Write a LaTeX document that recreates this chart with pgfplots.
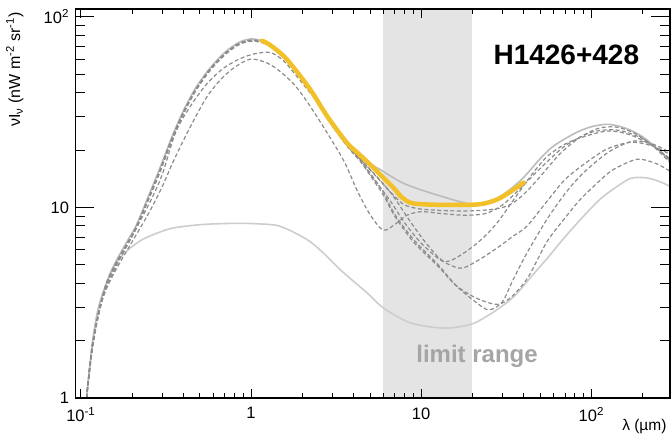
\documentclass[border=0pt]{standalone}
\usepackage{fontspec}
\setmainfont{Liberation Sans}
\usepackage{pgfplots}
\pgfplotsset{compat=1.18}
\definecolor{solidgray}{RGB}{188,188,188}
\definecolor{lowgray}{RGB}{205,205,205}
\definecolor{dashgray}{RGB}{140,140,140}
\definecolor{bandgray}{RGB}{228,228,228}
\definecolor{gold}{RGB}{242,192,40}
\definecolor{txtgray}{RGB}{165,165,165}
\begin{document}
\begin{tikzpicture}
\begin{axis}[name=ax, xmode=log, ymode=log, scale only axis,
  width=594.5pt, height=389pt,
  xmin=0.093, xmax=290, ymin=1, ymax=110,
  xtick={0.1,1,10,100}, xticklabels={10\textsuperscript{-1},1,10,10\textsuperscript{2}},
  minor xtick={0.2,0.3,0.4,0.5,0.6,0.7,0.8,0.9,2,3,4,5,6,7,8,9,20,30,40,50,60,70,80,90,200},
  ytick={1,10,100}, yticklabels={1,10,10\textsuperscript{2}},
  minor ytick={2,3,4,5,6,7,8,9,20,30,40,50,60,70,80,90},
  tick align=inside, axis on top,
  major tick length=9pt, minor tick length=5pt,
  axis line style={line width=1.2pt},
  every tick/.style={black, line width=0.9pt},
  tick label style={font=\fontsize{16.5}{19}\selectfont},
  xticklabel style={yshift=-6pt},
  yticklabel style={xshift=-3pt},
  xlabel={λ (µm)},
  xlabel style={at={(rel axis cs:1,0)}, anchor=north east, yshift=-18pt, xshift=0pt, font=\fontsize{15.5}{18}\selectfont},
  ylabel={νI\textsubscript{ν} (nW m\textsuperscript{-2} sr\textsuperscript{-1})},
  ylabel style={at={(rel axis cs:-0.102,1.0)}, anchor=east, font=\fontsize{16}{18}\selectfont},
]
% limit range band
\addplot[draw=none, fill=bandgray] coordinates {(6,1) (6,110) (20,110) (20,1)} -- cycle;

% lower solid
\addplot[lowgray, line width=1.6pt, smooth] coordinates {
(0.108,1.0) (0.117,1.95) (0.126,2.85) (0.137,3.7) (0.161,5.1) (0.19,6.0) (0.231,6.8) (0.3,7.5) (0.362,7.85) (0.52,8.14) (0.8,8.25) (1.1,8.2) (1.48,7.97) (2.13,6.79) (2.7,5.7) (3.34,4.72) (4.0,4.1) (4.8,3.57) (5.97,2.98) (8.24,2.52) (11,2.37) (14.5,2.33) (20,2.45) (27,2.85) (35,3.4) (45,4.4) (55,5.4) (70,7.0) (90,9.0) (112,11) (135,12.5) (170,14.2) (210,14.3) (250,13.7) (290,12.9)};

% top solid
\addplot[solidgray, line width=1.6pt, smooth] coordinates {
(0.108,1.0) (0.117,1.95) (0.126,2.9) (0.137,3.7) (0.15,4.6) (0.168,5.6) (0.19,6.8) (0.211,8.0) (0.25,11.5) (0.289,15.8) (0.34,23) (0.396,31.5) (0.47,42) (0.569,53.3) (0.7,65) (0.85,73.5) (1.0,76.6) (1.15,75) (1.3,71) (1.62,60) (2.22,41.8) (2.79,30.3) (3.65,21.9) (4.5,18) (5.74,15.8) (8,13.3) (12.9,11.5) (20.2,10.4) (28,11.2) (38.2,13.8) (50,18) (60,21) (80,24.5) (100,26.5) (126,27.3) (160,26) (200,23.5) (250,20) (290,17.5)};

% dashed curves
\pgfplotsset{dsh/.style={dashgray, line width=1.2pt, dash pattern=on 4pt off 2.5pt, smooth}}
\addplot[dsh] coordinates {
(0.108,1) (0.117,1.9) (0.137,3.6) (0.15,4.5) (0.17,5.6) (0.211,7.8) (0.25,11.2) (0.29,15.4) (0.34,22.5) (0.4,31.5) (0.47,41) (0.57,52.5) (0.7,64) (0.85,72.5) (1.0,75.5) (1.15,74) (1.3,70) (1.62,59) (2.22,41) (2.79,29.5) (3.65,21.2) (4.4,18) (5,15.8) (6,13.2) (7,11.4) (8,10.3) (10,9.8) (15,9.6) (20,9.6) (27,9.8) (33,10.3) (40,11.7) (50,14.5) (65,19) (85,23.2) (110,26) (140,26.4) (180,24.5) (230,21) (290,17.2)};
\addplot[dsh] coordinates {
(0.108,1) (0.117,1.85) (0.13,3.1) (0.15,4.3) (0.2,7.1) (0.25,10.3) (0.3,14.8) (0.362,25) (0.45,35) (0.55,44.5) (0.68,53.3) (0.85,60) (1.05,64) (1.3,65) (1.55,59) (1.77,51.4) (2.55,34.1) (3.47,22.8) (4.37,18) (5.5,14.5) (6.84,11.5) (8.5,8.6) (11,6.3) (14,5.2) (20,6.2) (27,8) (35,11) (45,15) (55,18.5) (70,21.5) (90,23.5) (126,25.2) (170,24) (230,21) (290,18)};
\addplot[dsh] coordinates {
(0.108,1) (0.117,1.8) (0.13,3.0) (0.15,4.2) (0.2,6.6) (0.25,9.3) (0.3,12.8) (0.35,17.5) (0.432,25.7) (0.55,38) (0.68,48) (0.816,55) (0.99,60) (1.2,58) (1.42,53.3) (1.8,44) (2.22,34.1) (3.03,22) (3.6,16.8) (4.2,12.3) (5.0,9.2) (6.0,7.6) (7.2,8.3) (8.24,9.1) (10,9.5) (13,9.3) (18,9.1) (24,9.3) (30,10.3) (38,12.5) (50,16) (70,21) (100,24.8) (140,25.5) (190,23.5) (240,20.5) (290,17.8)};
\addplot[dsh] coordinates {
(0.108,1) (0.118,2) (0.137,3.65) (0.15,4.5) (0.17,5.55) (0.211,7.9) (0.25,11.3) (0.29,15.5) (0.34,22.6) (0.4,31.5) (0.47,41.3) (0.57,52.8) (0.7,64) (0.85,72.5) (1.0,75.5) (1.15,74.5) (1.3,70.5) (1.62,59.5) (2.22,41.3) (2.79,29.8) (3.65,21.3) (4.4,17.8) (5,15) (6.5,11) (8,8.3) (10,6.5) (13,5.3) (17,4.8) (21,5.2) (27,6.0) (35,7.1) (42,8) (55,10.8) (70,14) (90,16.8) (120,20) (150,21.5) (180,22) (230,21) (290,19)};
\addplot[dsh] coordinates {
(0.108,1) (0.118,2) (0.137,3.65) (0.15,4.5) (0.17,5.5) (0.211,7.8) (0.25,11.1) (0.29,15.3) (0.34,22.3) (0.4,31) (0.47,40.8) (0.57,52) (0.7,63.5) (0.85,72) (1.0,75) (1.15,74) (1.3,70.5) (1.62,59.5) (2.22,41.3) (2.79,29.8) (3.65,21.3) (4.4,17.6) (5,15.2) (6,12) (7,9.2) (9,6.8) (12.6,5.0) (16,3.9) (20.8,3.2) (25,2.9) (30,3.2) (34.8,4.2) (42,5.8) (54.8,8.65) (70,11.8) (86,14.6) (110,17.8) (134.6,20.2) (177,22.3) (230,21.5) (290,19.4)};
\addplot[dsh] coordinates {
(0.108,1) (0.118,2) (0.137,3.6) (0.15,4.45) (0.17,5.45) (0.211,7.7) (0.25,11) (0.29,15.1) (0.34,22) (0.4,30.8) (0.47,40.5) (0.57,51.8) (0.7,63) (0.85,71.5) (1.0,74.5) (1.15,73.5) (1.3,70) (1.62,59) (2.22,41) (2.79,29.5) (3.65,21.1) (4.4,17.4) (5,14.8) (6,11.6) (7,9.0) (9,6.6) (12.6,4.9) (16,3.9) (21,3.35) (28,3.1) (34,3.4) (42.5,4.3) (54.8,6.6) (70,8.8) (86,11) (110,13.6) (134.6,15.8) (186,17.9) (240,17) (290,15.5)};

% yellow
\addplot[gold, line width=4.5pt, smooth, tension=0.5, line cap=round] coordinates {
(1.16,75) (1.3,71) (1.62,60) (2.22,41.8) (2.79,30.3) (3.65,21.9) (4.3,19.1) (5.01,16.8) (6.0,14.3) (6.87,12.7) (7.7,11.3) (8.62,10.6) (10,10.4) (15,10.3) (22.2,10.4) (27.9,11.0) (33,12) (40,13.5)};

\node[font=\bfseries\fontsize{28}{32}\selectfont] at (axis cs:71.3,63) {H1426+428};
\node[font=\bfseries\fontsize{24}{27}\selectfont, text=txtgray] at (axis cs:21.3,1.66) {limit range};
\end{axis}
% overlay axis: longer y ticks (ROOT style)
\begin{axis}[at={(ax.south west)}, anchor=south west, xmode=log, ymode=log, scale only axis,
  width=594.5pt, height=389pt,
  xmin=0.093, xmax=290, ymin=1, ymax=110,
  hide x axis,
  ytick={1,10,100}, yticklabels={,,},
  minor ytick={2,3,4,5,6,7,8,9,20,30,40,50,60,70,80,90},
  tick align=inside,
  major tick length=19pt, minor tick length=10pt,
  axis line style={line width=1.2pt},
  every tick/.style={black, line width=0.9pt},
]
\end{axis}
\path ([shift={(-75.5pt,-41pt)}]ax.south west) rectangle ([shift={(2pt,9pt)}]ax.north east);
\end{tikzpicture}
\end{document}
